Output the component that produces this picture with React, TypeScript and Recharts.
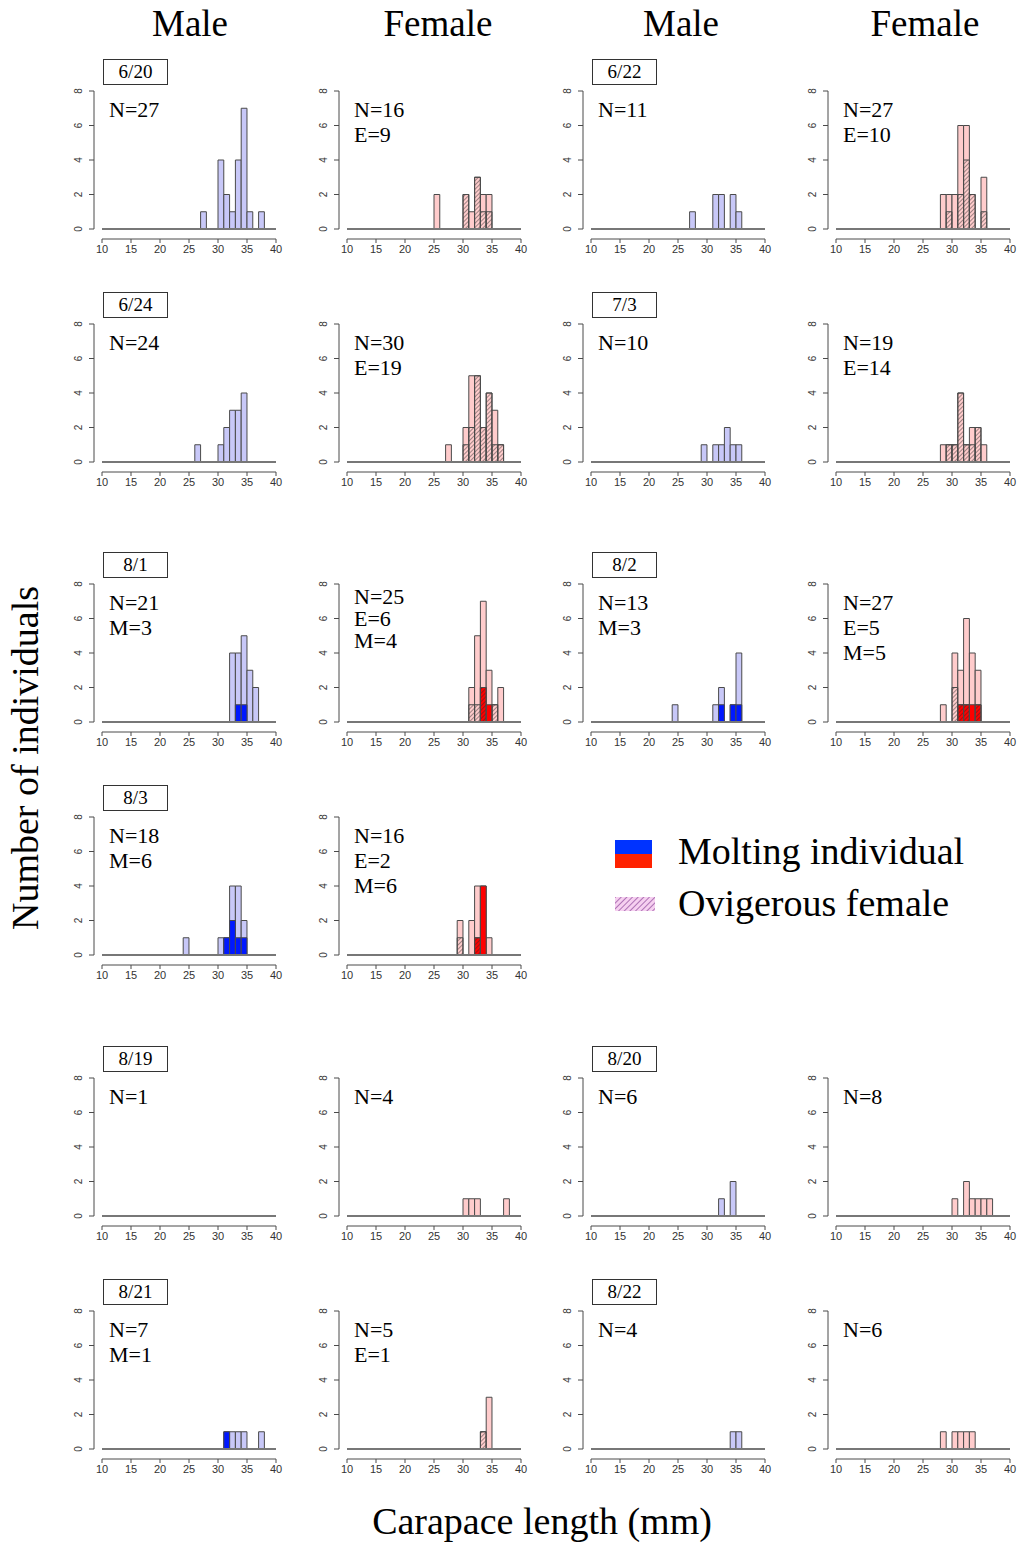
import React from "react";
import { BarChart, Bar, XAxis, YAxis, ReferenceLine } from "recharts";

// 1 mm carapace length classes (lower edge of each bin)
const BINS = [
  10, 11, 12, 13, 14, 15, 16, 17, 18, 19, 20, 21, 22, 23, 24, 25, 26, 27, 28,
  29, 30, 31, 32, 33, 34, 35, 36, 37, 38, 39,
];
const X_TICKS = [10, 15, 20, 25, 30, 35, 40];
const Y_TICKS = [0, 2, 4, 6, 8];

// counts below start at the 24 mm bin; smaller bins are all empty
const FIRST_BIN = 24;

// row 1
const m0620 = [0, 0, 0, 1, 0, 0, 4, 2, 1, 4, 7, 1, 0, 1, 0, 0];
const f0620 = [0, 2, 0, 0, 0, 0, 2, 1, 3, 2, 2, 0, 0, 0, 0, 0];
const f0620ovig = [0, 0, 0, 0, 0, 0, 2, 0, 3, 1, 1, 0, 0, 0, 0, 0];
const m0622 = [0, 0, 0, 1, 0, 0, 0, 2, 2, 0, 2, 1, 0, 0, 0, 0];
const f0622 = [0, 0, 0, 0, 2, 2, 2, 6, 6, 2, 0, 3, 0, 0, 0, 0];
const f0622ovig = [0, 0, 0, 0, 0, 1, 0, 2, 4, 2, 0, 1, 0, 0, 0, 0];
// row 2
const m0624 = [0, 0, 1, 0, 0, 0, 1, 2, 3, 3, 4, 0, 0, 0, 0, 0];
const f0624 = [0, 0, 0, 1, 0, 0, 2, 5, 5, 2, 4, 3, 1, 0, 0, 0];
const f0624ovig = [0, 0, 0, 0, 0, 0, 1, 2, 5, 2, 4, 1, 1, 0, 0, 0];
const m0703 = [0, 0, 0, 0, 0, 1, 0, 1, 1, 2, 1, 1, 0, 0, 0, 0];
const f0703 = [0, 0, 0, 0, 1, 1, 1, 4, 1, 2, 2, 1, 0, 0, 0, 0];
const f0703ovig = [0, 0, 0, 0, 0, 1, 1, 4, 1, 1, 2, 0, 0, 0, 0, 0];
// row 3
const m0801 = [0, 0, 0, 0, 0, 0, 0, 0, 4, 4, 5, 3, 2, 0, 0, 0];
const m0801molt = [0, 0, 0, 0, 0, 0, 0, 0, 0, 1, 1, 0, 0, 0, 0, 0];
const f0801 = [0, 0, 0, 0, 0, 0, 0, 2, 5, 7, 3, 1, 2, 0, 0, 0];
const f0801ovig = [0, 0, 0, 0, 0, 0, 0, 1, 1, 2, 0, 1, 0, 0, 0, 0];
const f0801molt = [0, 0, 0, 0, 0, 0, 0, 0, 0, 2, 1, 0, 0, 0, 0, 0];
const m0802 = [1, 0, 0, 0, 0, 0, 0, 1, 2, 0, 1, 4, 0, 0, 0, 0];
const m0802molt = [0, 0, 0, 0, 0, 0, 0, 0, 1, 0, 1, 1, 0, 0, 0, 0];
const f0802 = [0, 0, 0, 0, 1, 0, 4, 3, 6, 4, 3, 0, 0, 0, 0, 0];
const f0802ovig = [0, 0, 0, 0, 0, 0, 2, 1, 1, 0, 1, 0, 0, 0, 0, 0];
const f0802molt = [0, 0, 0, 0, 0, 0, 0, 1, 1, 1, 1, 0, 0, 0, 0, 0];
// row 4
const m0803 = [1, 0, 0, 0, 0, 0, 1, 1, 4, 4, 2, 0, 0, 0, 0, 0];
const m0803molt = [0, 0, 0, 0, 0, 0, 0, 1, 2, 1, 1, 0, 0, 0, 0, 0];
const f0803 = [0, 0, 0, 0, 0, 2, 0, 2, 4, 4, 1, 0, 0, 0, 0, 0];
const f0803ovig = [0, 0, 0, 0, 0, 1, 0, 0, 1, 0, 0, 0, 0, 0, 0, 0];
const f0803molt = [0, 0, 0, 0, 0, 0, 0, 0, 1, 4, 0, 0, 0, 0, 0, 0];
// row 5
const m0819 = [0, 0, 0, 0, 0, 0, 0, 0, 0, 0, 0, 0, 0, 0, 0, 0];
const f0819 = [0, 0, 0, 0, 0, 0, 1, 1, 1, 0, 0, 0, 0, 1, 0, 0];
const m0820 = [0, 0, 0, 0, 0, 0, 0, 0, 1, 0, 2, 0, 0, 0, 0, 0];
const f0820 = [0, 0, 0, 0, 0, 0, 1, 0, 2, 1, 1, 1, 1, 0, 0, 0];
// row 6
const m0821 = [0, 0, 0, 0, 0, 0, 0, 1, 1, 1, 1, 0, 0, 1, 0, 0];
const m0821molt = [0, 0, 0, 0, 0, 0, 0, 1, 0, 0, 0, 0, 0, 0, 0, 0];
const f0821 = [0, 0, 0, 0, 0, 0, 0, 0, 0, 1, 3, 0, 0, 0, 0, 0];
const f0821ovig = [0, 0, 0, 0, 0, 0, 0, 0, 0, 1, 0, 0, 0, 0, 0, 0];
const m0822 = [0, 0, 0, 0, 0, 0, 0, 0, 0, 0, 1, 1, 0, 0, 0, 0];
const f0822 = [0, 0, 0, 0, 1, 0, 1, 1, 1, 1, 0, 0, 0, 0, 0, 0];

type PanelDef = {
  row: number;
  col: number;
  sex: "M" | "F";
  date?: string;
  lines: string[];
  total: number[];
  molt?: number[];
  ovig?: number[];
  textShift?: number;
  lineGap?: number;
};

const PANELS: PanelDef[] = [
  { row: 0, col: 0, sex: "M", date: "6/20", lines: ["N=27"], total: m0620 },
  { row: 0, col: 1, sex: "F", lines: ["N=16", "E=9"], total: f0620, ovig: f0620ovig },
  { row: 0, col: 2, sex: "M", date: "6/22", lines: ["N=11"], total: m0622 },
  { row: 0, col: 3, sex: "F", lines: ["N=27", "E=10"], total: f0622, ovig: f0622ovig },
  { row: 1, col: 0, sex: "M", date: "6/24", lines: ["N=24"], total: m0624 },
  { row: 1, col: 1, sex: "F", lines: ["N=30", "E=19"], total: f0624, ovig: f0624ovig },
  { row: 1, col: 2, sex: "M", date: "7/3", lines: ["N=10"], total: m0703 },
  { row: 1, col: 3, sex: "F", lines: ["N=19", "E=14"], total: f0703, ovig: f0703ovig },
  { row: 2, col: 0, sex: "M", date: "8/1", lines: ["N=21", "M=3"], total: m0801, molt: m0801molt },
  {
    row: 2, col: 1, sex: "F", lines: ["N=25", "E=6", "M=4"],
    total: f0801, ovig: f0801ovig, molt: f0801molt, textShift: -6, lineGap: 22,
  },
  { row: 2, col: 2, sex: "M", date: "8/2", lines: ["N=13", "M=3"], total: m0802, molt: m0802molt },
  {
    row: 2, col: 3, sex: "F", lines: ["N=27", "E=5", "M=5"],
    total: f0802, ovig: f0802ovig, molt: f0802molt,
  },
  { row: 3, col: 0, sex: "M", date: "8/3", lines: ["N=18", "M=6"], total: m0803, molt: m0803molt },
  {
    row: 3, col: 1, sex: "F", lines: ["N=16", "E=2", "M=6"],
    total: f0803, ovig: f0803ovig, molt: f0803molt,
  },
  { row: 4, col: 0, sex: "M", date: "8/19", lines: ["N=1"], total: m0819 },
  { row: 4, col: 1, sex: "F", lines: ["N=4"], total: f0819 },
  { row: 4, col: 2, sex: "M", date: "8/20", lines: ["N=6"], total: m0820 },
  { row: 4, col: 3, sex: "F", lines: ["N=8"], total: f0820 },
  { row: 5, col: 0, sex: "M", date: "8/21", lines: ["N=7", "M=1"], total: m0821, molt: m0821molt },
  { row: 5, col: 1, sex: "F", lines: ["N=5", "E=1"], total: f0821, ovig: f0821ovig },
  { row: 5, col: 2, sex: "M", date: "8/22", lines: ["N=4"], total: m0822 },
  { row: 5, col: 3, sex: "F", lines: ["N=6"], total: f0822 },
];

// page position of x=10 for each column, and of y=8 for each row
const COL_X10 = [102, 347, 591, 836];
const ROW_Y8 = [91, 324, 584, 817, 1078, 1311];

const PLOT_W = 174;
const UNIT_PX = 138 / 8;
const GAP_PX = 10; // x axis sits a little below zero, R style
const PLOT_H = 138 + GAP_PX;
const Y_MIN = -GAP_PX / UNIT_PX;
const Y_AXIS_X = 10 - (8 * 30) / PLOT_W; // y axis line drawn 8px left of x=10
const LEFT_W = 40;
const TOP_M = 6;
const RIGHT_M = 10;
const X_H = 24;
const BAR_W = PLOT_W / BINS.length - 0.02;

const SERIF = "'Liberation Serif', 'Times New Roman', serif";
const SANS = "'Liberation Sans', Arial, sans-serif";
const AXIS = "#4a4a4a";

const FILL = { M: "#c8c8f8", F: "#ffcccc" };
const MOLT = { M: "#0018ff", F: "#ff0000" };

function YTick(props: any) {
  const { x, y, payload } = props;
  const lx = x - 20;
  return (
    <g>
      <line x1={x - 8} x2={x - 13} y1={y} y2={y} stroke={AXIS} />
      <text
        x={lx}
        y={y}
        transform={`rotate(-90 ${lx} ${y})`}
        textAnchor="middle"
        fontSize={10}
        fill="#333"
        fontFamily={SANS}
      >
        {payload.value}
      </text>
    </g>
  );
}

function Panel({ p, idx }: { p: PanelDef; idx: number }) {
  const x10 = COL_X10[p.col];
  const y8 = ROW_Y8[p.row];
  const pick = (arr: number[] | undefined, bin: number) => {
    const i = bin - FIRST_BIN;
    if (!arr || i < 0 || !arr[i]) return null;
    return arr[i];
  };
  const rows = BINS.map((bin) => ({
    bin,
    total: pick(p.total, bin),
    molt: pick(p.molt, bin),
    ovig: pick(p.ovig, bin),
  }));
  const hatchId = `hatch-${idx}`;
  const gap = p.lineGap ?? 25;
  const textCenter = y8 + 19 + (p.textShift ?? 0);

  return (
    <>
      <div
        style={{
          position: "absolute",
          left: x10 - LEFT_W,
          top: y8 - TOP_M,
        }}
      >
        <BarChart
          width={LEFT_W + PLOT_W + RIGHT_M}
          height={TOP_M + PLOT_H + X_H}
          data={rows}
          margin={{ top: TOP_M, right: RIGHT_M, left: 0, bottom: 0 }}
          barCategoryGap={0}
          barGap={0}
        >
          <defs>
            <pattern
              id={hatchId}
              patternUnits="userSpaceOnUse"
              width={3}
              height={3}
              patternTransform="rotate(45)"
            >
              <line x1={0} y1={0} x2={0} y2={3} stroke="#2a2a2a" strokeWidth={0.9} />
            </pattern>
          </defs>
          <XAxis
            xAxisId="num"
            dataKey="bin"
            type="number"
            domain={[10, 40]}
            ticks={X_TICKS}
            interval={0}
            allowDataOverflow
            height={X_H}
            stroke={AXIS}
            tickSize={4}
            tickMargin={2}
            tick={{ fontSize: 11, fill: "#333", fontFamily: SANS }}
          />
          <XAxis xAxisId="t" dataKey="bin" type="category" orientation="top" height={0} hide />
          <XAxis xAxisId="m" dataKey="bin" type="category" orientation="top" height={0} hide />
          <XAxis xAxisId="o" dataKey="bin" type="category" orientation="top" height={0} hide />
          <YAxis
            domain={[Y_MIN, 8]}
            ticks={Y_TICKS}
            allowDataOverflow
            width={LEFT_W}
            axisLine={false}
            tickLine={false}
            tickSize={0}
            tickMargin={0}
            interval={0}
            tick={(tp: any) => <YTick {...tp} />}
          />
          <ReferenceLine
            xAxisId="num"
            segment={[
              { x: Y_AXIS_X, y: 0 },
              { x: Y_AXIS_X, y: 8 },
            ]}
            stroke={AXIS}
            ifOverflow="visible"
          />
          <ReferenceLine xAxisId="num" y={0} stroke="#777" strokeWidth={2} />
          <Bar
            xAxisId="t"
            dataKey="total"
            fill={FILL[p.sex]}
            stroke={AXIS}
            strokeWidth={1}
            barSize={BAR_W}
            isAnimationActive={false}
          />
          {p.molt && (
            <Bar
              xAxisId="m"
              dataKey="molt"
              fill={MOLT[p.sex]}
              stroke={AXIS}
              strokeWidth={1}
              barSize={BAR_W}
              isAnimationActive={false}
            />
          )}
          {p.ovig && (
            <Bar
              xAxisId="o"
              dataKey="ovig"
              fill={`url(#${hatchId})`}
              stroke={AXIS}
              strokeWidth={1}
              barSize={BAR_W}
              isAnimationActive={false}
            />
          )}
        </BarChart>
      </div>
      {p.date && (
        <div
          style={{
            position: "absolute",
            left: x10 + 1,
            top: y8 - 32,
            width: 65,
            height: 26,
            boxSizing: "border-box",
            border: "1px solid #333",
            background: "#fff",
            fontFamily: SERIF,
            fontSize: 19,
            lineHeight: "24px",
            textAlign: "center",
          }}
        >
          {p.date}
        </div>
      )}
      {p.lines.map((t, i) => (
        <div
          key={t}
          style={{
            position: "absolute",
            left: x10 + 7,
            top: textCenter - 9 + i * gap,
            fontFamily: SERIF,
            fontSize: 22,
            lineHeight: "18px",
            whiteSpace: "nowrap",
          }}
        >
          {t}
        </div>
      ))}
    </>
  );
}

const HEADERS = [
  { text: "Male", x: 190 },
  { text: "Female", x: 438 },
  { text: "Male", x: 681 },
  { text: "Female", x: 925 },
];

const bigText: React.CSSProperties = {
  position: "absolute",
  fontFamily: SERIF,
  fontSize: 38,
  lineHeight: "40px",
  whiteSpace: "nowrap",
  textAlign: "center",
};

export default function App() {
  return (
    <div
      style={{
        position: "absolute",
        left: 0,
        top: 0,
        width: 1019,
        height: 1544,
        background: "#fff",
        overflow: "hidden",
      }}
    >
      {HEADERS.map((h, i) => (
        <div key={i} style={{ ...bigText, fontSize: 37, left: h.x - 100, top: 4, width: 200 }}>
          {h.text}
        </div>
      ))}
      {PANELS.map((p, i) => (
        <Panel key={i} p={p} idx={i} />
      ))}
      <div
        style={{
          ...bigText,
          left: 25 - 250,
          top: 758 - 20,
          width: 500,
          transform: "rotate(-90deg)",
        }}
      >
        Number of individuals
      </div>
      <div style={{ ...bigText, left: 542 - 250, top: 1521 - 20, width: 500 }}>
        Carapace length (mm)
      </div>

      <svg
        style={{ position: "absolute", left: 610, top: 834 }}
        width={50}
        height={84}
      >
        <defs>
          <pattern
            id="legend-hatch"
            patternUnits="userSpaceOnUse"
            width={4}
            height={4}
            patternTransform="rotate(45)"
          >
            <rect width={4} height={4} fill="#f6d0f0" />
            <line x1={0} y1={0} x2={0} y2={4} stroke="#9a5aa6" strokeWidth={1.6} />
          </pattern>
        </defs>
        <rect x={5} y={6} width={37} height={14} fill="#0033ff" />
        <rect x={5} y={20} width={37} height={14} fill="#ff2200" />
        <rect x={5} y={63} width={40} height={14} fill="url(#legend-hatch)" />
      </svg>
      <div style={{ ...bigText, left: 678, top: 851 - 20, textAlign: "left" }}>
        Molting individual
      </div>
      <div style={{ ...bigText, left: 678, top: 903 - 20, textAlign: "left" }}>
        Ovigerous female
      </div>
    </div>
  );
}
